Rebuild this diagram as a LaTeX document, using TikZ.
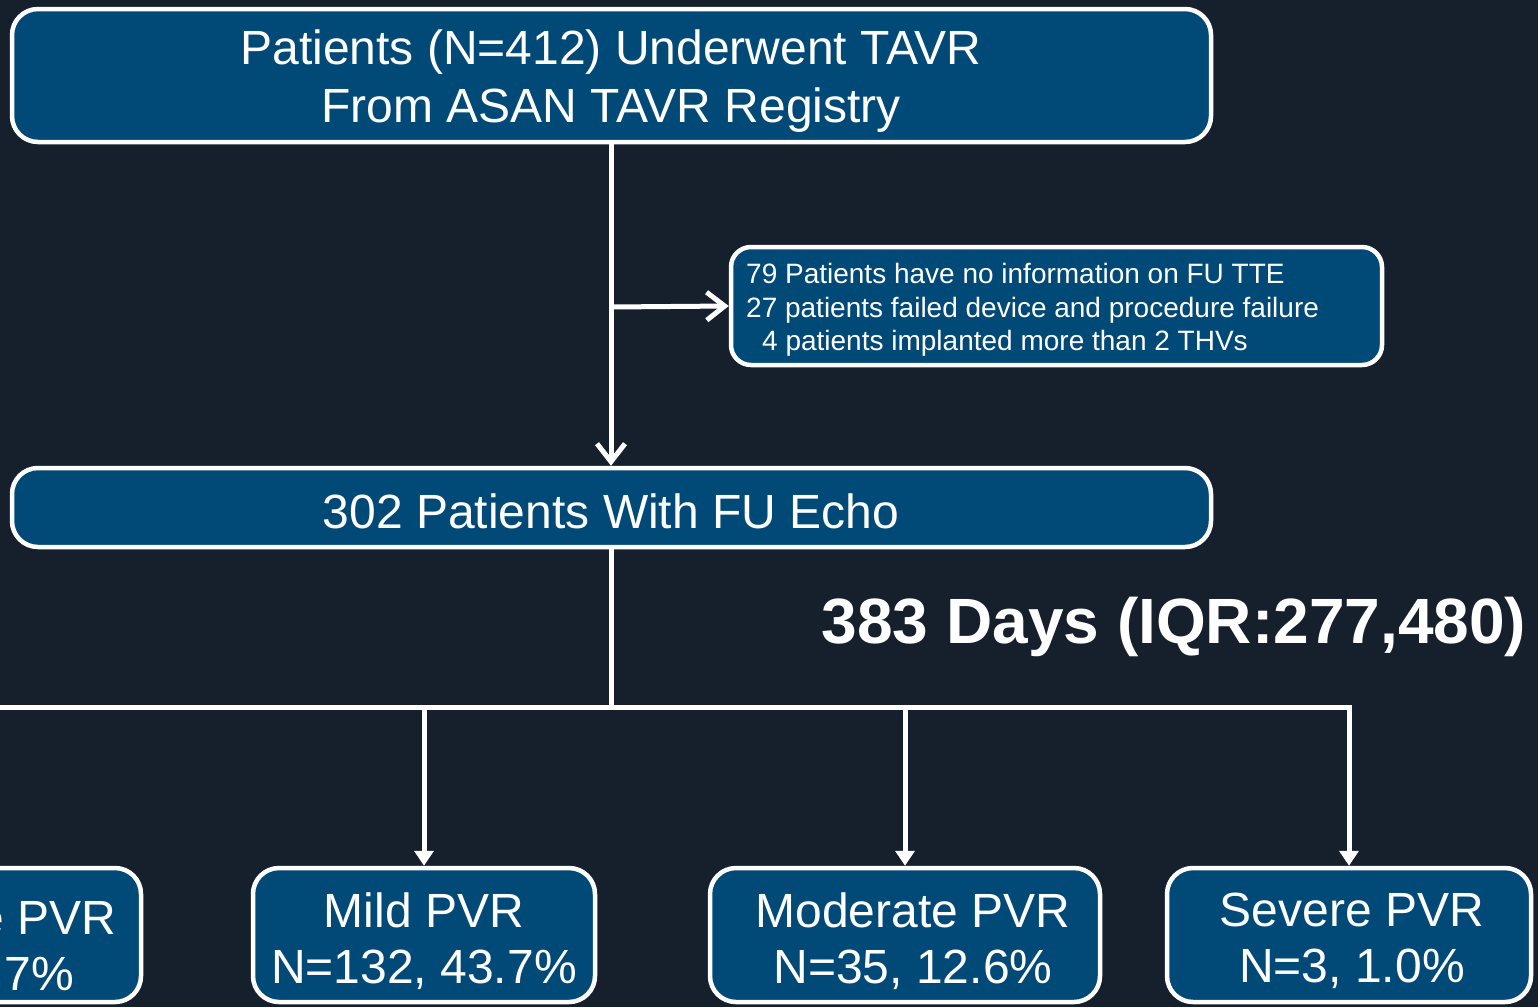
\documentclass[tikz,border=0pt]{standalone}
\usepackage{fontspec}
\setmainfont{Liberation Sans}
\usetikzlibrary{arrows.meta}
\definecolor{bgc}{HTML}{161F2C}
\definecolor{boxc}{HTML}{014A77}
\tikzset{
  box/.style={draw=white, fill=boxc, line width=4.5pt, rounded corners=26pt, inner sep=0pt},
  smallbox/.style={box, rounded corners=20pt},
  lbl/.style={text=white, align=center, inner sep=0pt},
  conn/.style={draw=white, line width=5pt},
  openarr/.style={conn, -{Straight Barb[length=18pt,width=28pt,line width=5pt]}},
  triarr/.style={conn, line join=miter, -{Triangle[length=15pt,width=19pt]}},
  big/.style={font=\fontsize{48}{58}\selectfont},
  bot/.style={font=\fontsize{48}{56}\selectfont},
  small/.style={font=\fontsize{28}{33.5}\selectfont},
}
\begin{document}
\begin{tikzpicture}[x=1pt,y=-1pt]
\useasboundingbox (0,0) rectangle (1538,1007);
\fill[bgc] (0,0) rectangle (1538,1007);

% boxes
\node[box, minimum width=1199pt, minimum height=133pt] (top) at (611.5,75.5) {};
\node[smallbox, minimum width=651pt, minimum height=118pt] (side) at (1056.5,306) {};
\node[box, minimum width=1199pt, minimum height=79pt] (mid) at (611.5,507.5) {};
\node[box, minimum width=402pt, minimum height=134pt] (none) at (-60,935) {};
\node[box, minimum width=342pt, minimum height=134pt] (mild) at (424,935) {};
\node[box, minimum width=390pt, minimum height=134pt] (mod) at (905,935) {};
\node[box, minimum width=364pt, minimum height=134pt] (sev) at (1349,935) {};

% texts
\node[lbl, big] (topt) at (611,81) {Patients (N=412) Underwent TAVR\\From ASAN TAVR Registry};
\node[lbl, small, align=left, anchor=west] (sidet) at (746,310)
  {79 Patients have no information on FU TTE\\27 patients failed device and procedure failure\\\hspace*{16pt}4 patients implanted more than 2 THVs};
\node[lbl, big] (midt) at (611,511) {302 Patients With FU Echo};
\node[lbl, font=\bfseries\fontsize{64}{70}\selectfont] (days) at (1174,627) {383 Days (IQR:277,480)};
\node[lbl, bot, anchor=east] (nonet1) at (116,918) {e PVR};
\node[lbl, bot, anchor=east] (nonet2) at (74,974) {7\%};
\node[lbl, bot] (mildt) at (424,941) {Mild PVR\\N=132, 43.7\%};
\node[lbl, bot] (modt) at (913,941) {Moderate PVR\\N=35, 12.6\%};
\node[lbl, bot] (sevt) at (1352,941) {Severe PVR\\N=3, 1.0\%};

% connectors
\coordinate (hub) at (611,707);
\coordinate (lft) at (-60,707);
\coordinate (br) at (611,307);

\draw[openarr] (top.south -| hub) -- (mid.north -| hub);
\draw[openarr] (br) -- (side.west);
\draw[conn] (mid.south -| hub) -- (hub);
\draw[triarr] (lft) -- (hub -| sev.north) -- (sev.north);
\draw[triarr] (hub -| mild.north) -- (mild.north);
\draw[triarr] (hub -| mod.north) -- (mod.north);
\draw[triarr] (lft) -- (none.north);
\end{tikzpicture}
\end{document}
